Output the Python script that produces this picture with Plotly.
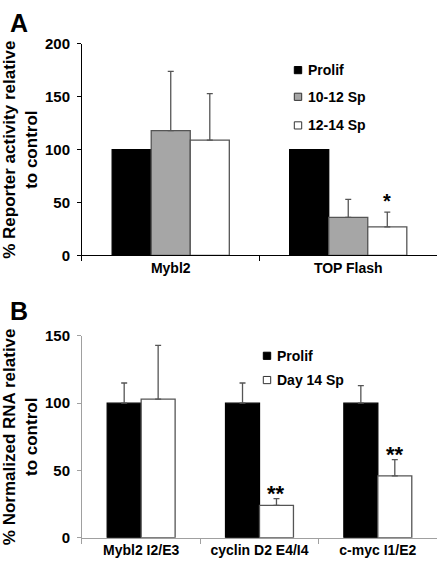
import plotly.graph_objects as go

# ---- Panel A data ----
cats_a = ["Mybl2", "TOP Flash"]
series_a = ["Prolif", "10-12 Sp", "12-14 Sp"]
vals_a = [[100, 100], [118, 36], [109, 27]]
err_a = [[0, 0], [56, 17], [44, 14]]
colors_a = ["#000000", "#a6a6a6", "#ffffff"]
edges_a = ["#000000", "#555555", "#555555"]
yticks_a = [0, 50, 100, 150, 200]

# ---- Panel B data ----
cats_b = ["Mybl2 I2/E3", "cyclin D2 E4/I4", "c-myc I1/E2"]
series_b = ["Prolif", "Day 14 Sp"]
vals_b = [[100, 100, 100], [103, 24, 46]]
err_b = [[15, 15, 13], [40, 5, 12]]
colors_b = ["#000000", "#ffffff"]
edges_b = ["#000000", "#555555"]
yticks_b = [0, 50, 100, 150]

FONT = "Liberation Sans, Arial, sans-serif"
fig = go.Figure()

wA = 0.22
offs_a = [-1.5 * wA, -0.5 * wA, 0.5 * wA]
for i, s in enumerate(series_a):
    has_err = any(e > 0 for e in err_a[i])
    fig.add_trace(go.Bar(
        x=cats_a, y=vals_a[i], name=s, width=wA, offset=offs_a[i],
        marker=dict(color=colors_a[i], line=dict(color=edges_a[i], width=1.3)),
        error_y=dict(type="data", symmetric=False, array=err_a[i],
                     arrayminus=[0] * len(cats_a), color="#555555",
                     thickness=1.3, width=3, visible=has_err),
        xaxis="x", yaxis="y", showlegend=False, hoverinfo="skip"))

wB = 0.287
offs_b = [-wB, 0]
for i, s in enumerate(series_b):
    fig.add_trace(go.Bar(
        x=cats_b, y=vals_b[i], name=s, width=wB, offset=offs_b[i],
        marker=dict(color=colors_b[i], line=dict(color=edges_b[i], width=1.3)),
        error_y=dict(type="data", symmetric=False, array=err_b[i],
                     arrayminus=[0] * len(cats_b), color="#555555",
                     thickness=1.3, width=3),
        xaxis="x2", yaxis="y2", showlegend=False, hoverinfo="skip"))

tickfont = dict(family=FONT, size=15, color="black", weight="bold")
catfont = dict(family=FONT, size=14, color="black", weight="bold")
titlefont = dict(family=FONT, size=17, color="black", weight="bold")

fig.update_layout(
    width=438, height=568, margin=dict(l=0, r=0, t=0, b=0),
    paper_bgcolor="white", plot_bgcolor="white", barmode="overlay",
    xaxis=dict(domain=[0.1872, 0.9977], anchor="y", type="category",
               range=[-0.5, 1.5], tickson="boundaries", ticks="outside",
               ticklen=5, tickcolor="black", showline=True, linecolor="black",
               linewidth=1, showgrid=False, tickfont=catfont),
    yaxis=dict(domain=[0.5528, 0.9366], anchor="x", range=[0, 200],
               tickvals=yticks_a, ticks="outside", ticklen=4, tickcolor="black",
               showline=True, linecolor="black", linewidth=1, showgrid=False,
               zeroline=False, tickfont=tickfont, ticklabelstandoff=4,
               title=dict(text="<b>% Reporter activity relative<br>to control</b>",
                          font=titlefont, standoff=6)),
    xaxis2=dict(domain=[0.1872, 0.9977], anchor="y2", type="category",
                range=[-0.5, 2.5], tickson="boundaries", ticks="outside",
                ticklen=5, tickcolor="#a0a0a0", showline=True, linecolor="#a0a0a0",
                linewidth=1, showgrid=False, tickfont=catfont),
    yaxis2=dict(domain=[0.0405, 0.4067], anchor="x2", range=[0, 150],
                tickvals=yticks_b, ticks="outside", ticklen=4, tickcolor="#a0a0a0",
                showline=True, linecolor="#a0a0a0", linewidth=1, showgrid=False,
                zeroline=False, tickfont=tickfont, ticklabelstandoff=4,
                title=dict(text="<b>% Normalized RNA relative<br>to control</b>",
                           font=titlefont, standoff=6)),
)

annotations = []
shapes = []
# panel letters
annotations.append(dict(text="A", xref="paper", yref="paper", x=0.018, y=1 - 14 / 568,
                        xanchor="left", yanchor="middle", showarrow=False,
                        font=dict(family=FONT, size=25, color="black", weight="bold")))
annotations.append(dict(text="B", xref="paper", yref="paper", x=0.018, y=1 - 311 / 568,
                        xanchor="left", yanchor="middle", showarrow=False,
                        font=dict(family=FONT, size=25, color="black", weight="bold")))

# legends (manual)
def add_legend(names, fills, edges, x_sq, y_rows):
    for n, f, e, yy in zip(names, fills, edges, y_rows):
        shapes.append(dict(type="rect", xref="paper", yref="paper",
                           x0=(x_sq - 3.7) / 438, x1=(x_sq + 3.7) / 438,
                           y0=1 - (yy + 3.7) / 568, y1=1 - (yy - 3.7) / 568,
                           fillcolor=f, line=dict(color=e, width=1)))
        annotations.append(dict(text=n, xref="paper", yref="paper",
                                x=(x_sq + 8) / 438, y=1 - yy / 568,
                                xanchor="left", yanchor="middle", showarrow=False,
                                font=dict(family=FONT, size=14, color="black", weight="bold")))

add_legend(series_a, colors_a, ["#000000", "#333333", "#333333"], 298, [63, 90.5, 120])
add_legend(series_b, colors_b, ["#000000", "#333333"], 267, [357.5, 382.5])

# significance asterisks
annotations.append(dict(text="*", xref="x", yref="y", x=1 + offs_a[2] + wA / 2,
                        y=vals_a[2][1] + err_a[2][1], yanchor="bottom", showarrow=False,
                        yshift=-2, font=dict(family=FONT, size=20, color="black", weight="bold")))
for j in [1, 2]:
    annotations.append(dict(text="**", xref="x2", yref="y2", x=j + offs_b[1] + wB / 2,
                            y=vals_b[1][j] + err_b[1][j], yanchor="bottom", showarrow=False,
                            yshift=-9, font=dict(family=FONT, size=22, color="black", weight="bold")))

fig.update_layout(annotations=annotations, shapes=shapes)
fig.write_html("out.html", config={"displayModeBar": False},
               post_script="document.body.style.margin='0';")
